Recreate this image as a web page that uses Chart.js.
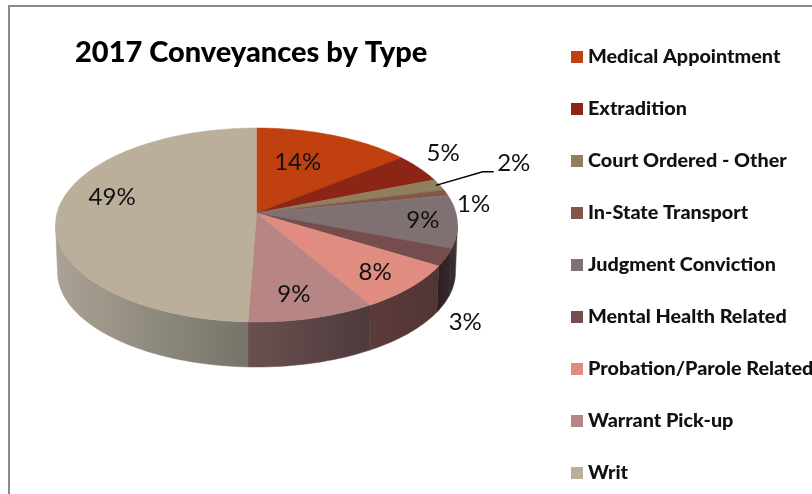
<!DOCTYPE html>
<html>
<head>
<meta charset="utf-8">
<style>
  html, body { margin: 0; padding: 0; background: #fff; }
  canvas { display: block; }
</style>
<script src="https://cdn.jsdelivr.net/npm/chart.js@4/dist/chart.umd.min.js"></script>
</head>
<body>
<canvas id="pieChart" width="812" height="494"></canvas>
<script>
const categories = ['Medical Appointment', 'Extradition', 'Court Ordered - Other', 'In-State Transport',
  'Judgment Conviction', 'Mental Health Related', 'Probation/Parole Related', 'Warrant Pick-up', 'Writ'];
const shares = [14.3, 4.8, 1.9, 1.0, 8.8, 2.9, 7.8, 9.1, 49.4];
const sliceColors = ['#c0410f', '#8c2516', '#8f7f5c', '#845648', '#7f7072', '#754d4e', '#e08c80', '#b78584', '#bbae9b'];
// side wall shade per slice, left end then right end
const wallShades = [
  ['#000', '#000'], ['#000', '#000'], ['#000', '#000'], ['#000', '#000'],
  ['#33282a', '#4a3c3e'], ['#2b2020', '#3a2a2a'], ['#5c3b3b', '#513535'], ['#6c5051', '#4c3a3b'], ['#aaa294', '#767369']
];
// label placement: radius along the slice middle, then a nudge in pixels
const labelSpots = [
  [0.62, -9, -1], [1.15, 1, -9], [1.15, 48, -17], [1.15, 0, 15], [0.82, 2, 0],
  [1.15, -11, 58], [0.7, 14, 9], [0.75, -3, 5], [0.7, -5, -14]
];

// the pie is seen in perspective, so the apex sits above the middle of the rim ellipse
const topFace = { cx: 256.5, cy: 225, a: 201, b: 97 };
const bottomFace = { cx: 256.5, cy: 272, a: 199, b: 95 };
const tilt = 0.124;
const frontFrom = 97.1, frontTo = 262.9;

function project(deg, r, face) {
  const t = deg * Math.PI / 180;
  const u = r * Math.sin(t);
  const v = -r * Math.cos(t);
  const d = 1 - tilt * v;
  return {
    x: face.cx + face.a * u * Math.sqrt(1 - tilt * tilt) / d,
    y: face.cy + face.b * (v - tilt) / d
  };
}

function sliceDegrees(arc) {
  return [(arc.startAngle + Math.PI / 2) * 180 / Math.PI, (arc.endAngle + Math.PI / 2) * 180 / Math.PI];
}

function rimPoints(from, to, face) {
  const pts = [];
  const steps = Math.max(2, Math.ceil(Math.abs(to - from)));
  for (let i = 0; i <= steps; i++) pts.push(project(from + (to - from) * i / steps, 1, face));
  return pts;
}

function drawWalls(ctx, arcs) {
  arcs.forEach((arc, i) => {
    const [start, end] = sliceDegrees(arc);
    const from = Math.max(start, frontFrom);
    const to = Math.min(end, frontTo);
    if (from >= to) return;
    const upper = rimPoints(from, to, topFace);
    const lower = rimPoints(to, from, bottomFace);
    const grad = ctx.createLinearGradient(upper[upper.length - 1].x, 0, upper[0].x, 0);
    grad.addColorStop(0, wallShades[i][0]);
    grad.addColorStop(1, wallShades[i][1]);
    ctx.beginPath();
    upper.concat(lower).forEach((p, n) => n ? ctx.lineTo(p.x, p.y) : ctx.moveTo(p.x, p.y));
    ctx.closePath();
    ctx.fillStyle = grad;
    ctx.strokeStyle = grad;
    ctx.lineWidth = 0.5;
    ctx.fill();
    ctx.stroke();
  });
}

function drawTop(ctx, arcs) {
  const apex = project(0, 0, topFace);
  arcs.forEach((arc, i) => {
    const [start, end] = sliceDegrees(arc);
    ctx.beginPath();
    ctx.moveTo(apex.x, apex.y);
    rimPoints(start, end, topFace).forEach(p => ctx.lineTo(p.x, p.y));
    ctx.closePath();
    ctx.fillStyle = sliceColors[i];
    ctx.strokeStyle = sliceColors[i];
    ctx.lineWidth = 0.5;
    ctx.fill();
    ctx.stroke();
  });
}

function drawLabels(ctx, arcs) {
  ctx.font = '24px Lato';
  ctx.fillStyle = '#111';
  ctx.textAlign = 'center';
  ctx.textBaseline = 'middle';
  arcs.forEach((arc, i) => {
    const [start, end] = sliceDegrees(arc);
    const mid = (start + end) / 2;
    const p = project(mid, labelSpots[i][0], topFace);
    const x = p.x + labelSpots[i][1];
    const y = p.y + labelSpots[i][2];
    const pct = Math.round(shares[i]);
    ctx.fillText(pct + '%', x, y);
    // only the 2% label is too far out and gets a leader line
    if (pct === 2) {
      const rim = project(mid, 0.98, topFace);
      ctx.beginPath();
      ctx.moveTo(rim.x, rim.y);
      ctx.lineTo(x - 31, y + 8);
      ctx.lineTo(x - 20, y + 8);
      ctx.strokeStyle = '#000';
      ctx.lineWidth = 1.5;
      ctx.stroke();
    }
  });
}

function drawLegend(ctx) {
  ctx.font = '900 19.8px Lato';
  ctx.textAlign = 'left';
  ctx.textBaseline = 'middle';
  categories.forEach((name, i) => {
    const y = 57 + 52 * i;
    ctx.fillStyle = sliceColors[i];
    ctx.fillRect(571, y - 6, 12, 12);
    ctx.fillStyle = '#111';
    ctx.fillText(name, 588, y);
  });
}

const perspectivePie = {
  id: 'perspectivePie',
  beforeDatasetsDraw(chart) {
    const ctx = chart.ctx;
    const arcs = chart.getDatasetMeta(0).data;
    ctx.save();
    drawWalls(ctx, arcs);
    drawTop(ctx, arcs);
    drawLabels(ctx, arcs);
    drawLegend(ctx);
    // frame, cut by the picture on the right and at the bottom
    ctx.fillStyle = '#8a8a8a';
    ctx.fillRect(8, 5, 804, 2);
    ctx.fillRect(8, 5, 2, 489);
    ctx.restore();
    return false;
  }
};

new Chart(document.getElementById('pieChart'), {
  type: 'pie',
  data: {
    labels: categories,
    datasets: [{ data: shares, backgroundColor: sliceColors }]
  },
  options: {
    responsive: false,
    animation: false,
    layout: { padding: { left: 75 } },
    plugins: {
      legend: { display: false },
      tooltip: { enabled: false },
      title: {
        display: true,
        text: '2017 Conveyances by Type',
        align: 'start',
        color: '#000',
        font: { family: 'Lato', size: 29, weight: '900' },
        padding: { top: 35, bottom: 0 }
      }
    }
  },
  plugins: [perspectivePie]
});
</script>
</body>
</html>
